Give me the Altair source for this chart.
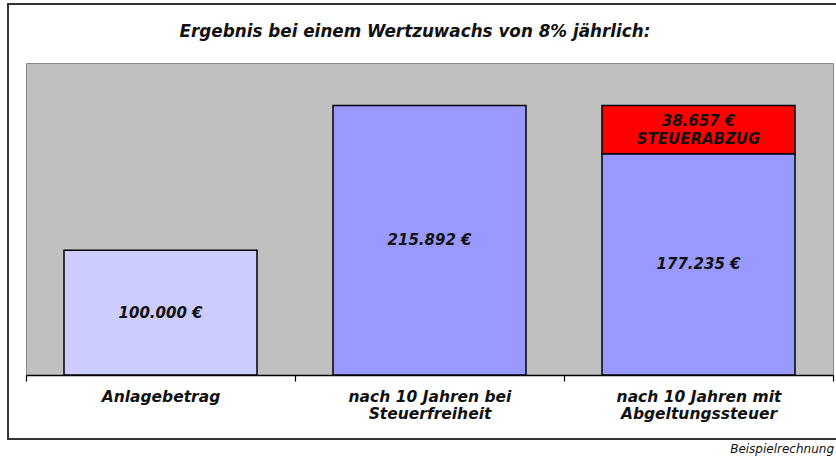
import altair as alt
import pandas as pd

# ---- data ----
categories = ["Anlagebetrag", "nach 10 Jahren bei|Steuerfreiheit", "nach 10 Jahren mit|Abgeltungssteuer"]
seg_category = [categories[0], categories[1], categories[2], categories[2]]
seg_kind = ["Anlage", "Ergebnis", "Ergebnis", "Steuer"]
seg_value = [100000, 215892, 177235, 38657]
seg_label = ["100.000 €", "215.892 €", "177.235 €", "38.657 €|STEUERABZUG"]
title_text = "Ergebnis bei einem Wertzuwachs von 8% jährlich:"
note_text = "Beispielrechnung"

rows = []
base = {}
for c, k, v, l in zip(seg_category, seg_kind, seg_value, seg_label):
    start = base.get(c, 0)
    end = start + v
    base[c] = end
    rows.append({"cat": c, "kind": k, "start": start, "end": end, "mid": (start + end) / 2, "label": l})
df = pd.DataFrame(rows)

FONT = "DejaVu Sans"
TXT = "#111111"

xenc = alt.X("cat:N", sort=categories,
             scale=alt.Scale(paddingInner=0, paddingOuter=0),
             axis=alt.Axis(title=None, labelAngle=0, labelFont=FONT, labelFontSize=15.5,
                           labelFontWeight="bold", labelFontStyle="italic", labelColor=TXT,
                           labelExpr="split(datum.label, '|')", labelLineHeight=17,
                           labelPadding=8, domainColor="#000000", domainWidth=1.5,
                           tickColor="#000000", tickWidth=1.2, tickSize=6, tickBand="extent",
                           grid=False))
yscale = alt.Scale(domain=[0, 250000], nice=False)

bars = alt.Chart(df).mark_bar(size=193, stroke="#000000", strokeWidth=1.5).encode(
    x=xenc,
    y=alt.Y("start:Q", scale=yscale, axis=None),
    y2="end:Q",
    color=alt.Color("kind:N", legend=None,
                    scale=alt.Scale(domain=["Anlage", "Ergebnis", "Steuer"],
                                    range=["#CCCCFF", "#9999FF", "#FF0000"])),
)

text_style = dict(font=FONT, fontSize=15, fontWeight="bold", fontStyle="italic",
                  color=TXT, lineBreak="|", lineHeight=18, baseline="middle")

labels = alt.Chart(df).mark_text(**text_style).encode(
    x=alt.X("cat:N", sort=categories),
    y=alt.Y("mid:Q", scale=yscale, axis=None),
    text="label:N",
).transform_filter(alt.datum.kind != "Steuer")

labels_tax = alt.Chart(df).mark_text(dy=-9, **text_style).encode(
    x=alt.X("cat:N", sort=categories),
    y=alt.Y("mid:Q", scale=yscale, axis=None),
    text="label:N",
).transform_filter(alt.datum.kind == "Steuer")

frame = alt.Chart(df).mark_rect(fill=None, stroke="#333333", strokeWidth=2).encode(
    x=alt.value(-18), x2=alt.value(820), y=alt.value(-59), y2=alt.value(376)
)

title = alt.Chart(pd.DataFrame({"t": [title_text]})).mark_text(
    font=FONT, fontSize=16.8, fontWeight="bold", fontStyle="italic", color=TXT,
    align="center", baseline="middle").encode(
    x=alt.value(389), y=alt.value(-31), text="t:N")

note = alt.Chart(pd.DataFrame({"t": [note_text]})).mark_text(
    font=FONT, fontSize=12, fontStyle="italic", color=TXT,
    align="right", baseline="middle").encode(
    x=alt.value(808), y=alt.value(386), text="t:N")

chart = alt.layer(frame, bars, labels, labels_tax, title, note).properties(
    width=807, height=312,
    autosize=alt.AutoSizeParams(type="none"),
    padding={"left": 26, "top": 63, "right": 3, "bottom": 87},
    background="#FFFFFF",
).configure_view(fill="#C0C0C0", stroke="#888888", strokeWidth=1)

chart.save("out.html", embed_options={"renderer": "svg", "actions": False})
